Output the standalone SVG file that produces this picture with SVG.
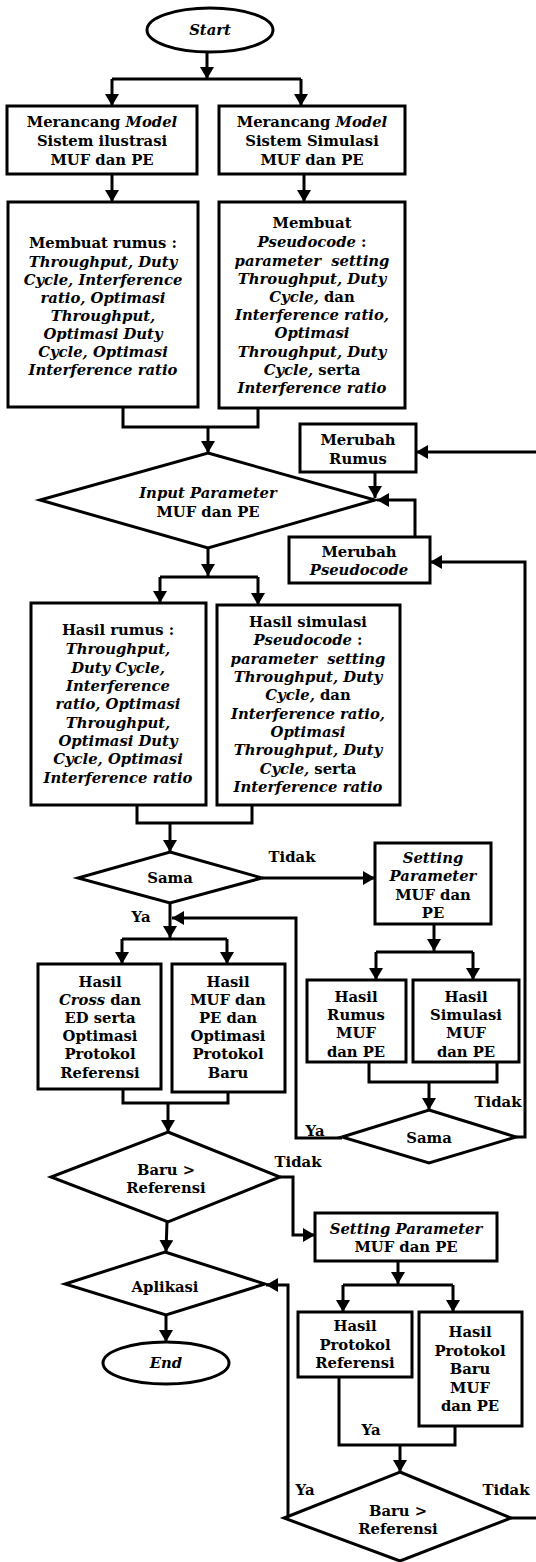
<svg xmlns="http://www.w3.org/2000/svg" width="536" height="1562" viewBox="0 0 536 1562">
<style>
text{font-family:"DejaVu Serif","Liberation Serif",serif;font-size:14.8px;font-weight:bold;fill:#000;text-anchor:middle}
.i{font-style:italic}
.n rect,.n ellipse,.n polygon{fill:#fff;stroke:#000;stroke-width:3}
.c line,.c polyline{fill:none;stroke:#000;stroke-width:3}
.a{marker-end:url(#ah)}
</style>
<defs>
<marker id="ah" markerWidth="14" markerHeight="14" refX="12" refY="7" orient="auto" markerUnits="userSpaceOnUse" viewBox="0 0 14 14"><path d="M0,0 L12,7 L0,14 z" fill="#000"/></marker>
</defs>
<rect width="536" height="1562" fill="#fff"/>
<g class="c" id="connectors">
<line class="a" x1="207" y1="52" x2="207" y2="79"/>
<line x1="112" y1="79" x2="301" y2="79"/>
<line class="a" x1="112" y1="79" x2="112" y2="106"/>
<line class="a" x1="301" y1="79" x2="301" y2="106"/>
<line class="a" x1="112" y1="174" x2="112" y2="202"/>
<line class="a" x1="304" y1="174" x2="304" y2="202"/>
<polyline points="123,407 123,427 258,427 258,408"/>
<line class="a" x1="208" y1="427" x2="208" y2="453"/>
<line class="a" x1="208" y1="548" x2="208" y2="576"/>
<line x1="160" y1="577" x2="258" y2="577"/>
<line class="a" x1="160" y1="577" x2="160" y2="603"/>
<line class="a" x1="258" y1="577" x2="258" y2="605"/>
<line class="a" x1="536" y1="452" x2="416" y2="452"/>
<line class="a" x1="375" y1="472" x2="375" y2="498"/>
<polyline class="a" points="415,537 415,500 377,500"/>
<polyline points="137,805 137,823 252,823 252,805"/>
<line class="a" x1="170" y1="823" x2="170" y2="852"/>
<line class="a" x1="262" y1="878" x2="375" y2="878"/>
<line class="a" x1="170" y1="903" x2="170" y2="938"/>
<line x1="122" y1="939" x2="227" y2="939"/>
<line class="a" x1="122" y1="939" x2="122" y2="964"/>
<line class="a" x1="227" y1="939" x2="227" y2="964"/>
<line class="a" x1="434" y1="924" x2="434" y2="951"/>
<line x1="376" y1="952" x2="473" y2="952"/>
<line class="a" x1="376" y1="952" x2="376" y2="980"/>
<line class="a" x1="473" y1="952" x2="473" y2="980"/>
<polyline points="369,1062 369,1082 497,1082 497,1062"/>
<line class="a" x1="429" y1="1082" x2="429" y2="1110"/>
<polyline class="a" points="342,1138 296,1138 296,918 172,918"/>
<polyline class="a" points="516,1137 525,1137 525,562 430,562"/>
<polyline points="123,1089 123,1103 228,1103 228,1092"/>
<line class="a" x1="168" y1="1103" x2="168" y2="1132"/>
<polyline class="a" points="280,1177 293,1177 293,1235 315,1235"/>
<line class="a" x1="167" y1="1222" x2="166" y2="1252"/>
<line class="a" x1="166" y1="1315" x2="166" y2="1342"/>
<line class="a" x1="398" y1="1261" x2="398" y2="1284"/>
<line x1="343" y1="1285" x2="453" y2="1285"/>
<line class="a" x1="343" y1="1285" x2="343" y2="1312"/>
<line class="a" x1="453" y1="1285" x2="453" y2="1312"/>
<polyline points="339,1377 339,1445 455,1445 455,1426"/>
<line class="a" x1="400" y1="1445" x2="400" y2="1472"/>
<polyline class="a" points="286,1518 288,1518 288,1285 266,1285"/>
<line x1="511" y1="1518" x2="536" y2="1518"/>
</g>
<g class="n" id="start"><ellipse cx="210" cy="30" rx="63" ry="22"/><text x="210" y="35" class="i">Start</text></g>
<g class="n" id="b1"><rect x="7" y="106" width="190" height="68"/>
<text x="102" y="127">Merancang <tspan class="i">Model</tspan></text>
<text x="102" y="146">Sistem ilustrasi</text>
<text x="102" y="165">MUF dan PE</text></g>
<g class="n" id="b2"><rect x="219" y="106" width="186" height="68"/>
<text x="312" y="127">Merancang <tspan class="i">Model</tspan></text>
<text x="312" y="146">Sistem Simulasi</text>
<text x="312" y="165">MUF dan PE</text></g>
<g class="n" id="b3"><rect x="8" y="202" width="190" height="205"/>
<text x="103" y="248">Membuat rumus :</text>
<text x="103" y="267" class="i">Throughput, Duty</text>
<text x="103" y="285" class="i">Cycle, Interference</text>
<text x="103" y="303" class="i">ratio, Optimasi</text>
<text x="103" y="321" class="i">Throughput,</text>
<text x="103" y="339" class="i">Optimasi Duty</text>
<text x="103" y="357" class="i">Cycle, Optimasi</text>
<text x="103" y="375" class="i">Interference ratio</text></g>
<g class="n" id="b4"><rect x="219" y="202" width="186" height="206"/>
<text x="312" y="228">Membuat</text>
<text x="312" y="247"><tspan class="i">Pseudocode</tspan> :</text>
<text x="312" y="266" class="i">parameter&#160; setting</text>
<text x="312" y="284" class="i">Throughput, Duty</text>
<text x="312" y="302"><tspan class="i">Cycle,</tspan> dan</text>
<text x="312" y="320" class="i">Interference ratio,</text>
<text x="312" y="338" class="i">Optimasi</text>
<text x="312" y="357" class="i">Throughput, Duty</text>
<text x="312" y="375"><tspan class="i">Cycle,</tspan> serta</text>
<text x="312" y="393" class="i">Interference ratio</text></g>
<g class="n" id="d1"><polygon points="208,453 375,500 208,548 40,500"/>
<text x="208" y="498" class="i">Input Parameter</text>
<text x="208" y="517">MUF dan PE</text></g>
<g class="n" id="mr"><rect x="300" y="424" width="116" height="48"/>
<text x="358" y="445">Merubah</text>
<text x="358" y="464">Rumus</text></g>
<g class="n" id="mp"><rect x="289" y="537" width="141" height="46"/>
<text x="359" y="557">Merubah</text>
<text x="359" y="575" class="i">Pseudocode</text></g>
<g class="n" id="b5"><rect x="31" y="603" width="175" height="202"/>
<text x="118" y="635">Hasil rumus :</text>
<text x="118" y="654" class="i">Throughput,</text>
<text x="118" y="673" class="i">Duty Cycle,</text>
<text x="118" y="691" class="i">Interference</text>
<text x="118" y="709" class="i">ratio, Optimasi</text>
<text x="118" y="728" class="i">Throughput,</text>
<text x="118" y="746" class="i">Optimasi Duty</text>
<text x="118" y="764" class="i">Cycle, Optimasi</text>
<text x="118" y="783" class="i">Interference ratio</text></g>
<g class="n" id="b6"><rect x="217" y="605" width="183" height="200"/>
<text x="308" y="627">Hasil simulasi</text>
<text x="308" y="645"><tspan class="i">Pseudocode</tspan> :</text>
<text x="308" y="664" class="i">parameter&#160; setting</text>
<text x="308" y="682" class="i">Throughput, Duty</text>
<text x="308" y="700"><tspan class="i">Cycle,</tspan> dan</text>
<text x="308" y="719" class="i">Interference ratio,</text>
<text x="308" y="737" class="i">Optimasi</text>
<text x="308" y="755" class="i">Throughput, Duty</text>
<text x="308" y="774"><tspan class="i">Cycle,</tspan> serta</text>
<text x="308" y="792" class="i">Interference ratio</text></g>
<g class="n" id="d2"><polygon points="170,852 262,878 170,903 78,878"/>
<text x="170" y="883">Sama</text></g>
<g class="n" id="sp1"><rect x="375" y="843" width="116" height="81"/>
<text x="433" y="863" class="i">Setting</text>
<text x="433" y="881" class="i">Parameter</text>
<text x="433" y="900">MUF dan</text>
<text x="433" y="918">PE</text></g>
<g class="n" id="hr"><rect x="307" y="980" width="99" height="82"/>
<text x="356" y="1002">Hasil</text>
<text x="356" y="1020">Rumus</text>
<text x="356" y="1038">MUF</text>
<text x="356" y="1057">dan PE</text></g>
<g class="n" id="hs"><rect x="413" y="980" width="106" height="82"/>
<text x="466" y="1002">Hasil</text>
<text x="466" y="1020">Simulasi</text>
<text x="466" y="1038">MUF</text>
<text x="466" y="1057">dan PE</text></g>
<g class="n" id="d3"><polygon points="429,1110 516,1137 429,1163 342,1137"/>
<text x="429" y="1143">Sama</text></g>
<g class="n" id="hc"><rect x="38" y="964" width="123" height="125"/>
<text x="100" y="987">Hasil</text>
<text x="100" y="1005"><tspan class="i">Cross</tspan> dan</text>
<text x="100" y="1023">ED serta</text>
<text x="100" y="1041">Optimasi</text>
<text x="100" y="1059">Protokol</text>
<text x="100" y="1078">Referensi</text></g>
<g class="n" id="hm"><rect x="172" y="964" width="113" height="128"/>
<text x="228" y="987">Hasil</text>
<text x="228" y="1005">MUF dan</text>
<text x="228" y="1023">PE dan</text>
<text x="228" y="1041">Optimasi</text>
<text x="228" y="1059">Protokol</text>
<text x="228" y="1078">Baru</text></g>
<g class="n" id="d4"><polygon points="168,1132 280,1177 168,1222 51,1177"/>
<text x="166" y="1175">Baru &gt;</text>
<text x="166" y="1193">Referensi</text></g>
<g class="n" id="sp2"><rect x="315" y="1213" width="182" height="48"/>
<text x="406" y="1234" class="i">Setting Parameter</text>
<text x="406" y="1252">MUF dan PE</text></g>
<g class="n" id="ap"><polygon points="165,1252 265,1284 166,1315 65,1284"/>
<text x="165" y="1292">Aplikasi</text></g>
<g class="n" id="end"><ellipse cx="166" cy="1363" rx="63" ry="21"/><text x="166" y="1368" class="i">End</text></g>
<g class="n" id="hpr"><rect x="298" y="1312" width="114" height="65"/>
<text x="355" y="1331">Hasil</text>
<text x="355" y="1350">Protokol</text>
<text x="355" y="1368">Referensi</text></g>
<g class="n" id="hpb"><rect x="419" y="1312" width="103" height="114"/>
<text x="470" y="1337">Hasil</text>
<text x="470" y="1356">Protokol</text>
<text x="470" y="1374">Baru</text>
<text x="470" y="1393">MUF</text>
<text x="470" y="1411">dan PE</text></g>
<g class="n" id="d5"><polygon points="400,1472 511,1518 400,1561 284,1518"/>
<text x="398" y="1516">Baru &gt;</text>
<text x="398" y="1534">Referensi</text></g>
<g id="labels">
<text x="292" y="862">Tidak</text>
<text x="141" y="922">Ya</text>
<text x="498" y="1107">Tidak</text>
<text x="315" y="1136">Ya</text>
<text x="298" y="1167">Tidak</text>
<text x="371" y="1435">Ya</text>
<text x="305" y="1495">Ya</text>
<text x="506" y="1495">Tidak</text>
</g>
</svg>
